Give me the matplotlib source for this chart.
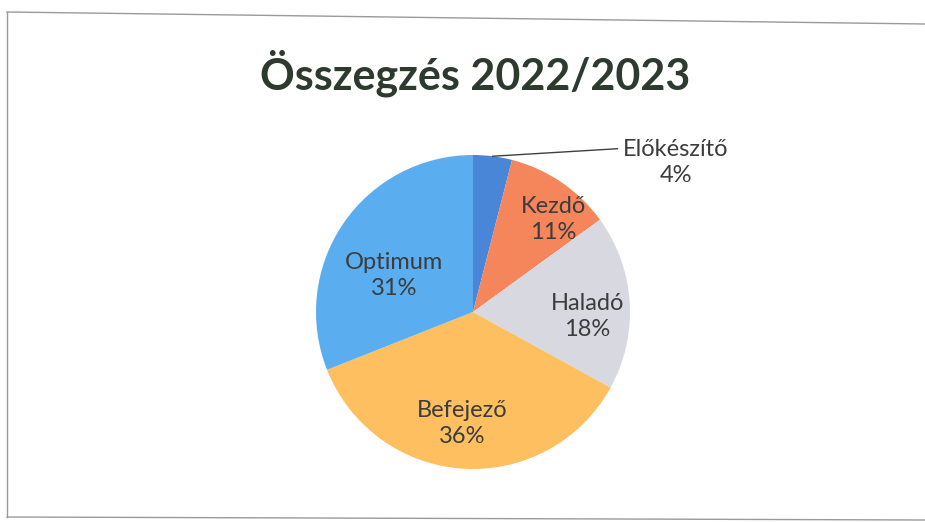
import matplotlib
matplotlib.use("Agg")
import matplotlib.pyplot as plt
from matplotlib.lines import Line2D
import numpy as np

plt.rcParams['font.family'] = ['Lato', 'DejaVu Sans']

# data
categories = ['Előkészítő', 'Kezdő', 'Haladó', 'Befejező', 'Optimum']
shares = [4, 11, 18, 36, 31]
colors = ['#4a86d8', '#f5855a', '#d8d8e0', '#fdbf5f', '#5aaef0']
# label centres, in pie-radius units (Excel "best fit" placement)
label_pos = [(1.29, 0.95), (0.51, 0.59), (0.73, -0.03), (-0.07, -0.71), (-0.50, 0.23)]

W, H = 925, 522
fig = plt.figure(figsize=(W / 100, H / 100), dpi=100)
fig.patch.set_facecolor('white')

# scanned frame of the chart area
def px(x, y):
    return x / W, 1 - y / H
frame_col = '#9a9a9a'
for (x0, y0), (x1, y1) in [((7, 12), (925, 24)), ((7, 12), (7, 517)), ((7, 517), (925, 520))]:
    a, b = px(x0, y0)
    c, d = px(x1, y1)
    fig.add_artist(Line2D([a, c], [b, d], color=frame_col, lw=1.0, transform=fig.transFigure))

fig.text(475 / W, 1 - 73 / H, 'Összegzés 2022/2023', ha='center', va='center',
         fontsize=31, fontweight='bold', color='#2d3a2e')

cx, cy, rad = 473, 312, 157
ax = fig.add_axes([(cx - rad) / W, 1 - (cy + rad) / H, 2 * rad / W, 2 * rad / H])
wedges, _ = ax.pie(shares, colors=colors, startangle=90, counterclock=False,
                   wedgeprops=dict(linewidth=0))
ax.set_xlim(-1, 1)
ax.set_ylim(-1, 1)
ax.set_aspect('auto')
ax.axis('off')

txt_col = '#3c3c3c'
total = sum(shares)
for i, w in enumerate(wedges):
    pct = round(shares[i] / total * 100)
    lx, ly = label_pos[i]
    if np.hypot(lx, ly) > 1:
        # outside label with leader line from wedge edge
        mid = np.deg2rad((w.theta1 + w.theta2) / 2)
        ax.plot([np.cos(mid), 0.92], [np.sin(mid), 1.04], color='#404040', lw=1.0, clip_on=False)
    ax.text(lx, ly, f'{categories[i]}\n{pct}%', ha='center', va='center',
            fontsize=17, color=txt_col, linespacing=1.3)

fig.savefig('out.png', dpi=100)
